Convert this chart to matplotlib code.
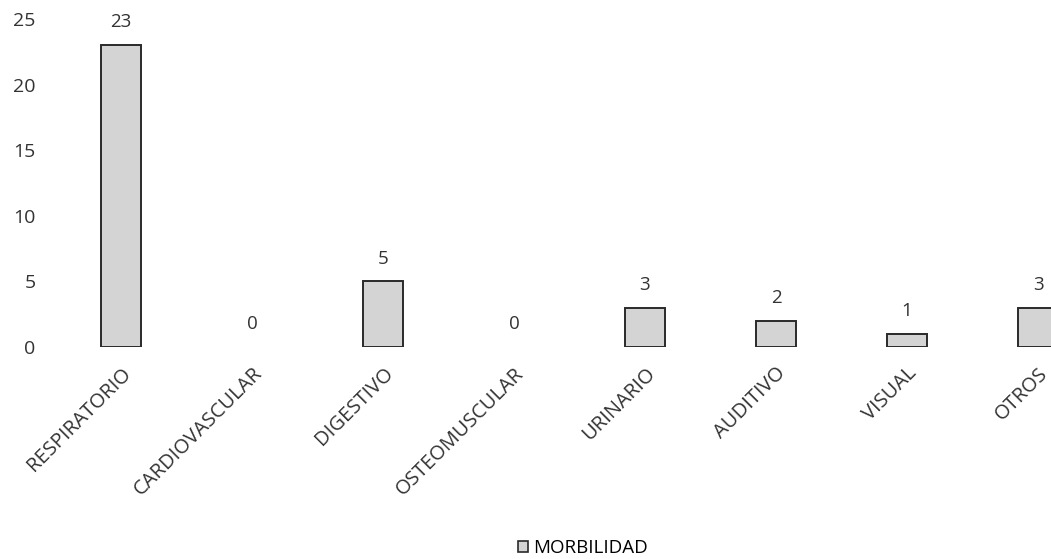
import matplotlib
matplotlib.use("Agg")
import matplotlib.pyplot as plt
import matplotlib.transforms as mtransforms
from matplotlib.patches import Patch

categories = ["RESPIRATORIO", "CARDIOVASCULAR", "DIGESTIVO", "OSTEOMUSCULAR",
              "URINARIO", "AUDITIVO", "VISUAL", "OTROS"]
values = [23, 0, 5, 0, 3, 2, 1, 3]
series_name = "MORBILIDAD"
yticks = [0, 5, 10, 15, 20, 25]

plt.rcParams['font.family'] = ['Open Sans', 'DejaVu Sans']

W, H = 1051, 559
fig = plt.figure(figsize=(W / 100, H / 100), dpi=100)
left_px, right_px = 55, 1051
bottom_px, top_px = 347, 19
ax = fig.add_axes([left_px / W, 1 - bottom_px / H, (right_px - left_px) / W, (bottom_px - top_px) / H])

x = list(range(len(categories)))
bars = ax.bar(x, values, width=0.3, color='#d4d4d4', edgecolor='#2a2a2a', linewidth=1.4)
for b, v in zip(bars, values):
    if v == 0:
        b.set_linewidth(0)
ax.set_xlim((left_px - 121) / 131, (right_px - 121) / 131)
ax.set_ylim(0, 25)
ax.set_yticks(yticks)
ax.set_yticklabels([str(t) for t in yticks], fontsize=14, color='#333333')
ax.set_xticks(x)
ax.set_xticklabels(categories, rotation=45, ha='right', rotation_mode='anchor',
                   fontsize=14.5, color='#333333')
offset = mtransforms.ScaledTranslation(-6 / 100, -4 / 100, fig.dpi_scale_trans)
for lbl in ax.get_xticklabels():
    lbl.set_transform(lbl.get_transform() + offset)
ax.tick_params(axis='both', length=0)
ax.tick_params(axis='y', pad=14)
ax.tick_params(axis='x', pad=12)
for s in ax.spines.values():
    s.set_visible(False)

for xi, v in zip(x, values):
    ax.annotate(str(v), (xi, v), xytext=(0, 10), textcoords='offset points',
                ha='center', va='bottom', fontsize=13.5, color='#333333', clip_on=False)

handle = Patch(facecolor='#d4d4d4', edgecolor='#2a2a2a', linewidth=1.2)
fig.legend([handle], [series_name], loc='center', bbox_to_anchor=(583 / W, 1 - 548 / H),
           frameon=False, fontsize=13.5, handlelength=0.55, handleheight=0.55, handletextpad=0.3)

fig.savefig("out.png", dpi=100)
